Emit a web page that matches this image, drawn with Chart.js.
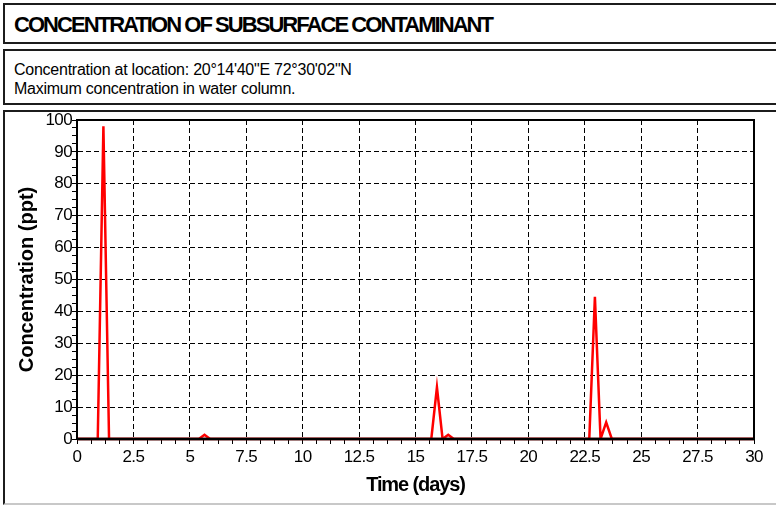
<!DOCTYPE html>
<html>
<head>
<meta charset="utf-8">
<script src="https://cdn.jsdelivr.net/npm/chart.js@4.4.1/dist/chart.umd.min.js"></script>
<style>
  html, body { margin: 0; padding: 0; background: #fff; }
  body { width: 776px; height: 506px; position: relative; overflow: hidden; font-family: "Liberation Sans", Arial, sans-serif; }
  .box { position: absolute; left: 3px; width: 800px; border: 2px solid #1c1c1c; border-right: none; box-sizing: border-box; }
  #b1 { top: 3px; height: 41px; }
  #b2 { top: 49px; height: 56px; }
  #b3 { top: 110px; height: 395px; border-bottom-color: #c8c8c8; }
  #title { position: absolute; left: 14px; top: 14px; font-size: 22px; line-height: 22px; font-weight: bold; letter-spacing: -1.95px; white-space: nowrap; color: #000; }
  #sub { position: absolute; left: 14px; top: 61px; font-size: 16px; line-height: 18.5px; letter-spacing: -0.25px; white-space: nowrap; color: #000; }
  #wrap { position: absolute; left: 0; top: 0; width: 776px; height: 506px; }
</style>
</head>
<body>
<div class="box" id="b1"></div>
<div class="box" id="b2"></div>
<div class="box" id="b3"></div>
<div id="title">CONCENTRATION OF SUBSURFACE CONTAMINANT</div>
<div id="sub">Concentration at location: 20°14'40"E 72°30'02"N<br>Maximum concentration in water column.</div>
<div id="wrap"><canvas id="c"></canvas></div>
<script>
// ---- data ----
const timeDays = [0, 0.92, 1.17, 1.42, 5.4, 5.65, 5.9, 15.7, 15.95, 16.2, 16.45, 16.7, 22.7, 22.95, 23.2, 23.45, 23.7, 30];
const concentrationPpt = [0, 0, 98, 0, 0, 1.3, 0, 0, 16.2, 0, 1.3, 0, 0, 44.6, 0, 5.2, 0, 0];
const xTickLabels = ['0', '2.5', '5', '7.5', '10', '12.5', '15', '17.5', '20', '22.5', '25', '27.5', '30'];
const yTickLabels = ['0', '10', '20', '30', '40', '50', '60', '70', '80', '90', '100'];
const seriesName = 'Concentration';
const xTitle = 'Time (days)';
const yTitle = 'Concentration (ppt)';

const points = timeDays.map((t, i) => ({ x: t, y: concentrationPpt[i] }));
const xMax = parseFloat(xTickLabels[xTickLabels.length - 1]);
const yMax = parseFloat(yTickLabels[yTickLabels.length - 1]);
const xMajor = parseFloat(xTickLabels[1]);
const yMajor = parseFloat(yTickLabels[1]);
const isMult = (v, s) => Math.abs(v / s - Math.round(v / s)) < 1e-6;

const FONT = '"Liberation Sans", Arial, sans-serif';

const framePlugin = {
  id: 'frame',
  beforeDraw(chart) {
    chart.ctx.letterSpacing = '-0.6px';
  },
  afterDatasetsDraw(chart) {
    const { ctx, chartArea: a, scales } = chart;
    const y0 = scales.y.getPixelForValue(0);
    ctx.save();
    ctx.strokeStyle = '#4a0505';
    ctx.lineWidth = 3;
    ctx.beginPath();
    ctx.moveTo(a.left, y0);
    ctx.lineTo(a.right, y0);
    ctx.stroke();
    ctx.strokeStyle = '#000';
    ctx.lineWidth = 2;
    ctx.strokeRect(a.left, a.top, a.right - a.left, a.bottom - a.top);
    ctx.restore();
  },
  afterDraw(chart) {
    const { ctx, chartArea: a } = chart;
    ctx.save();
    ctx.fillStyle = '#000';
    ctx.font = 'bold 20px ' + FONT;
    ctx.textAlign = 'center';
    ctx.textBaseline = 'middle';
    ctx.letterSpacing = '-1.1px';
    ctx.fillText(xTitle, (a.left + a.right) / 2, 485);
    ctx.letterSpacing = '0px';
    ctx.translate(27, (a.top + a.bottom) / 2);
    ctx.rotate(-Math.PI / 2);
    ctx.fillText(yTitle, 0, 0);
    ctx.restore();
  }
};

new Chart(document.getElementById('c'), {
  type: 'scatter',
  data: {
    datasets: [{
      label: seriesName,
      data: points,
      showLine: true,
      borderColor: '#ff0000',
      backgroundColor: '#ff0000',
      borderWidth: 2.5,
      pointRadius: 0,
      tension: 0
    }]
  },
  options: {
    responsive: true,
    maintainAspectRatio: false,
    devicePixelRatio: 1,
    animation: false,
    layout: { padding: { top: 120, right: 22, left: 4, bottom: 0 } },
    plugins: { legend: { display: false }, tooltip: { enabled: false } },
    scales: {
      x: {
        type: 'linear',
        min: 0, max: xMax,
        afterFit: (s) => { s.height = 67; },
        ticks: {
          stepSize: xMajor / 4,
          autoSkip: false,
          maxRotation: 0,
          padding: 5,
          color: '#000',
          font: { family: FONT, size: 17, lineHeight: 1 },
          callback: (v) => isMult(v, xMajor) ? xTickLabels[Math.round(v / xMajor)] : ''
        },
        grid: {
          color: (c) => (c.tick && isMult(c.tick.value, xMajor)) ? '#000' : 'rgba(0,0,0,0)',
          tickColor: '#000',
          tickLength: 5,
          lineWidth: 1
        },
        border: { display: true, color: '#000', width: 2, dash: [5, 3] },
        title: { display: false }
      },
      y: {
        type: 'linear',
        min: 0, max: yMax,
        afterFit: (s) => { s.width = 73; },
        ticks: {
          stepSize: yMajor / 4,
          autoSkip: false,
          padding: 0,
          color: '#000',
          font: { family: FONT, size: 17, lineHeight: 1 },
          callback: (v) => isMult(v, yMajor) ? yTickLabels[Math.round(v / yMajor)] : ''
        },
        grid: {
          color: (c) => (c.tick && isMult(c.tick.value, yMajor)) ? '#000' : 'rgba(0,0,0,0)',
          tickColor: '#000',
          tickLength: 5,
          lineWidth: 1
        },
        border: { display: true, color: '#000', width: 2, dash: [5, 3] },
        title: { display: false }
      }
    }
  },
  plugins: [framePlugin]
});
</script>
</body>
</html>
